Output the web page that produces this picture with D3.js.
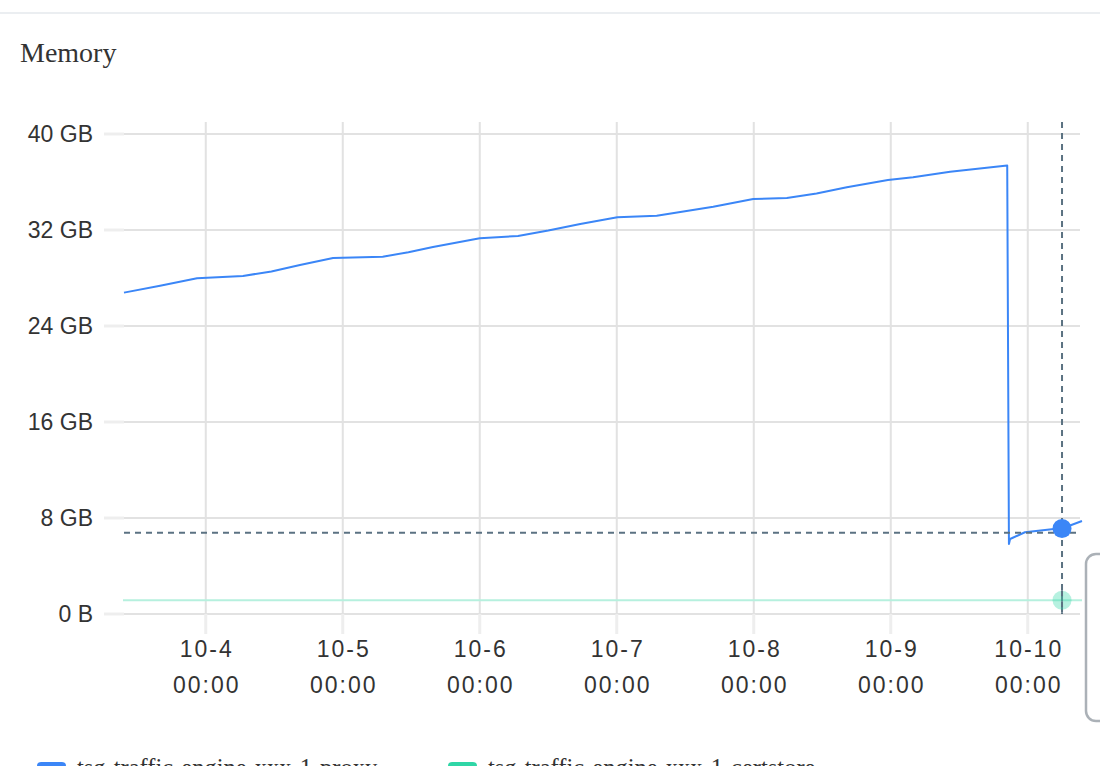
<!DOCTYPE html>
<html>
<head>
<meta charset="utf-8">
<script src="https://cdn.jsdelivr.net/npm/d3@7"></script>
<style>
  html, body { margin: 0; padding: 0; background: #fff; overflow: hidden; }
  svg { display: block; }
</style>
</head>
<body>
<svg id="chart" width="1100" height="766"></svg>
<script>
// ---- data ----
const seriesNames = ["tsg-traffic-engine-xxx-1-proxy", "tsg-traffic-engine-xxx-1-certstore"];
const seriesColors = ["#3b86f7", "#2fd6a6"];
const proxyTimes = [
  "2023-10-03T09:40", "2023-10-03T16:00", "2023-10-03T22:28", "2023-10-04T06:31", "2023-10-04T11:30",
  "2023-10-04T16:30", "2023-10-04T22:18", "2023-10-05T00:00", "2023-10-05T07:00", "2023-10-05T11:30",
  "2023-10-05T15:48", "2023-10-06T00:00", "2023-10-06T06:42", "2023-10-06T12:00", "2023-10-06T17:36",
  "2023-10-07T00:06", "2023-10-07T07:00", "2023-10-07T16:54", "2023-10-07T23:54", "2023-10-08T05:48",
  "2023-10-08T11:00", "2023-10-08T16:18", "2023-10-08T23:30", "2023-10-09T03:54", "2023-10-09T10:24",
  "2023-10-09T20:24", "2023-10-09T20:42", "2023-10-09T20:54", "2023-10-09T23:30", "2023-10-10T04:12",
  "2023-10-10T06:00", "2023-10-10T09:30"
];
const proxyGB = [
  26.78, 27.35, 27.98, 28.17, 28.55,
  29.08, 29.67, 29.69, 29.78, 30.15,
  30.58, 31.31, 31.50, 31.95, 32.50,
  33.06, 33.19, 33.94, 34.58, 34.67,
  35.05, 35.56, 36.17, 36.39, 36.86,
  37.38, 5.83, 6.25, 6.81, 7.06,
  7.13, 7.75
];
const certTimes = ["2023-10-03T09:30", "2023-10-10T09:30"];
const certGB = [1.15, 1.15];
const yTicks = [0, 8, 16, 24, 32, 40];
const yTickLabels = ["0 B", "8 GB", "16 GB", "24 GB", "32 GB", "40 GB"];
const xTicks = ["2023-10-04T00:00", "2023-10-05T00:00", "2023-10-06T00:00", "2023-10-07T00:00",
                "2023-10-08T00:00", "2023-10-09T00:00", "2023-10-10T00:00"];
const xTickLine1 = ["10-4", "10-5", "10-6", "10-7", "10-8", "10-9", "10-10"];
const xTickLine2 = ["00:00", "00:00", "00:00", "00:00", "00:00", "00:00", "00:00"];
const hoverTime = "2023-10-10T06:00";
const hoverGB = 6.78;
const hoverValues = [7.13, 1.15];
const titleText = "Memory";

// ---- scales ----
const parse = s => new Date(s);
const x = d3.scaleTime()
  .domain([parse("2023-10-03T09:30"), parse("2023-10-10T09:30")])
  .range([123, 1082]);
const y = d3.scaleLinear().domain([0, 41]).range([614, 122]);

const svg = d3.select("#chart");
const sans = "'Liberation Sans', Arial, Helvetica, sans-serif";
const serif = "'Liberation Serif', 'Times New Roman', serif";

// top border
svg.append("line").attr("x1", 0).attr("x2", 1100).attr("y1", 13).attr("y2", 13)
  .attr("stroke", "#e5e8ec").attr("stroke-width", 1.5);

// title
svg.append("text").attr("x", 20).attr("y", 62).text(titleText)
  .attr("font-family", serif).attr("font-size", 28).attr("fill", "#333");

// horizontal grid + y ticks
const gy = svg.append("g");
gy.selectAll("line.grid").data(yTicks).join("line").attr("class", "grid")
  .attr("x1", 124).attr("x2", 1080).attr("y1", d => y(d)).attr("y2", d => y(d))
  .attr("stroke", "#e2e2e2").attr("stroke-width", 2);
gy.selectAll("line.tick").data(yTicks).join("line").attr("class", "tick")
  .attr("x1", 104).attr("x2", 124).attr("y1", d => y(d)).attr("y2", d => y(d))
  .attr("stroke", "#eeeeee").attr("stroke-width", 3);
gy.selectAll("text").data(yTicks).join("text")
  .attr("x", 93).attr("y", d => y(d)).attr("dy", "0.36em")
  .attr("text-anchor", "end").attr("font-family", sans).attr("font-size", 23)
  .attr("fill", "#333").text((d, i) => yTickLabels[i]);

// vertical grid + x ticks
const gx = svg.append("g");
gx.selectAll("line.grid").data(xTicks).join("line").attr("class", "grid")
  .attr("x1", d => x(parse(d))).attr("x2", d => x(parse(d)))
  .attr("y1", y(41)).attr("y2", y(0))
  .attr("stroke", "#e2e2e2").attr("stroke-width", 2);
gx.selectAll("line.tick").data(xTicks).join("line").attr("class", "tick")
  .attr("x1", d => x(parse(d))).attr("x2", d => x(parse(d)))
  .attr("y1", y(0)).attr("y2", y(0) + 20)
  .attr("stroke", "#eeeeee").attr("stroke-width", 3);
gx.selectAll("text.l1").data(xTicks).join("text").attr("class", "l1")
  .attr("x", d => x(parse(d)) + 1).attr("y", 657).attr("text-anchor", "middle")
  .attr("font-family", sans).attr("font-size", 23).attr("letter-spacing", 2).attr("fill", "#333")
  .text((d, i) => xTickLine1[i]);
gx.selectAll("text.l2").data(xTicks).join("text").attr("class", "l2")
  .attr("x", d => x(parse(d)) + 1).attr("y", 693).attr("text-anchor", "middle")
  .attr("font-family", sans).attr("font-size", 23).attr("letter-spacing", 2).attr("fill", "#333")
  .text((d, i) => xTickLine2[i]);

// lines
const line = d3.line().x(d => x(d[0])).y(d => y(d[1]));
const certData = certTimes.map((t, i) => [parse(t), certGB[i]]);
const proxyData = proxyTimes.map((t, i) => [parse(t), proxyGB[i]]);
svg.append("path").datum(certData).attr("d", line).attr("fill", "none")
  .attr("stroke", "#b6f0de").attr("stroke-width", 2);
svg.append("path").datum(proxyData).attr("d", line).attr("fill", "none")
  .attr("stroke", seriesColors[0]).attr("stroke-width", 2).attr("stroke-linejoin", "round");

// crosshair
const hx = x(parse(hoverTime));
const dashColor = "#5b7282";
svg.append("line").attr("x1", hx).attr("x2", hx).attr("y1", y(41)).attr("y2", y(0))
  .attr("stroke", dashColor).attr("stroke-width", 2).attr("stroke-dasharray", "6,5");
svg.append("line").attr("x1", 124).attr("x2", 1080).attr("y1", y(hoverGB)).attr("y2", y(hoverGB))
  .attr("stroke", dashColor).attr("stroke-width", 2).attr("stroke-dasharray", "6,5");

// hover dots
svg.append("circle").attr("cx", hx).attr("cy", y(hoverValues[1])).attr("r", 9.5)
  .attr("fill", "#2fd6a6").attr("fill-opacity", 0.35);
svg.append("circle").attr("cx", hx).attr("cy", y(hoverValues[0])).attr("r", 9.5)
  .attr("fill", seriesColors[0]);
svg.append("line").attr("x1", hx).attr("x2", hx).attr("y1", y(hoverValues[1]) - 10).attr("y2", y(0))
  .attr("stroke", dashColor).attr("stroke-width", 2).attr("stroke-dasharray", "6,5");

// partial tooltip box at right edge
svg.append("rect").attr("x", 1086).attr("y", 554).attr("width", 60).attr("height", 167)
  .attr("rx", 10).attr("fill", "#fff").attr("stroke", "#abb1b7").attr("stroke-width", 2.5);

// legend
const legendX = [37, 448];
const lg = svg.append("g");
seriesNames.forEach((name, i) => {
  lg.append("rect").attr("x", legendX[i]).attr("y", 762).attr("width", 29).attr("height", 16)
    .attr("rx", 4).attr("fill", seriesColors[i]);
  lg.append("text").attr("x", legendX[i] + 40).attr("y", 776).text(name)
    .attr("font-family", serif).attr("font-size", 24.5).attr("fill", "#333");
});
</script>
</body>
</html>
